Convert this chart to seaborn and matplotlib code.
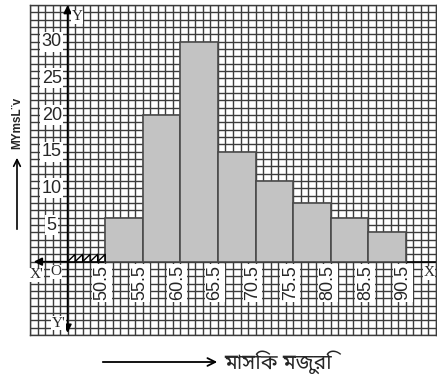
import numpy as np
import matplotlib
matplotlib.use("Agg")
import matplotlib.pyplot as plt
import seaborn as sns

# class boundaries (monthly wage) and frequencies
edges = [50.5, 55.5, 60.5, 65.5, 70.5, 75.5, 80.5, 85.5, 90.5]
freq = [6, 20, 30, 15, 11, 8, 6, 4]
y_ticks = [5, 10, 15, 20, 25, 30]
x_label = "মাসিক মজুরি"
y_label = "MYmsL¨v"

sns.set_style("white")
plt.rcParams["font.family"] = ["DejaVu Sans"]

origin_x = 45.5
x_lo, x_hi = 40.5, 94.5
y_lo, y_hi = -10, 35

fig = plt.figure(figsize=(4.37, 3.78), dpi=100)
ax = fig.add_axes([30 / 437, 43 / 378, 406 / 437, 330 / 378])

mids = [(a + b) / 2 for a, b in zip(edges[:-1], edges[1:])]
sns.histplot(x=mids, weights=freq, bins=edges, ax=ax, color="#c3c3c3",
             edgecolor="#4a4a4a", linewidth=1.2, alpha=1, zorder=3)

ax.set_xlim(x_lo, x_hi)
ax.set_ylim(y_lo, y_hi)

# graph-paper grid: one line per unit
ax.set_xticks(np.arange(x_lo, x_hi + 0.01, 1))
ax.set_yticks(np.arange(y_lo, y_hi + 0.01, 1))
ax.tick_params(length=0, labelbottom=False, labelleft=False)
ax.grid(True, color="#3c3c3c", linewidth=1.0)
ax.set_axisbelow(True)
ax.set_xlabel("")
ax.set_ylabel("")
for s in ax.spines.values():
    s.set_color("#3c3c3c")
    s.set_linewidth(1.0)

box = dict(facecolor="white", edgecolor="none", pad=1.0)
num_font = dict(fontsize=13, family=["Liberation Sans", "DejaVu Sans"])

for t in y_ticks:
    ax.text(43.4, t, str(t), ha="center", va="center", bbox=box, zorder=5, **num_font)

for e in edges:
    ax.text(e - 0.4, -0.5, f"{e}", ha="center", va="top", rotation=90,
            bbox=box, zorder=5, **num_font)

# axes through the origin
arrow = dict(arrowstyle="-|>", color="black", lw=1.2, mutation_scale=12,
             shrinkA=0, shrinkB=0)
ax.annotate("", xy=(origin_x, y_hi), xytext=(origin_x, 0), arrowprops=arrow, zorder=6)
ax.annotate("", xy=(origin_x, y_lo + 0.3), xytext=(origin_x, 0), arrowprops=arrow, zorder=6)
ax.annotate("", xy=(41.0, 0), xytext=(origin_x, 0), arrowprops=arrow, zorder=6)
ax.plot([origin_x, x_hi], [0, 0], color="black", lw=1.2, zorder=2)

# axis break zigzag between O and the first class
zx, zy = [origin_x], [0]
for k in range(1, 6):
    zx += [origin_x + k, origin_x + k]
    zy += [1, 0]
ax.plot(zx, zy, color="black", lw=1.0, zorder=6)

serif = dict(family="Liberation Serif", fontsize=11, zorder=6)
wbox = dict(facecolor="white", edgecolor="none", pad=0.3)
ax.text(46.8, 33.4, "Y", ha="center", va="center", bbox=wbox, **serif)
ax.text(44.3, -8.4, "Y'", ha="center", va="center", bbox=wbox, **serif)
ax.text(41.4, -1.8, "X'", ha="center", va="center", bbox=wbox, **serif)
ax.text(44.0, -1.4, "O", ha="center", va="center", bbox=wbox, **serif)
ax.text(93.6, -1.5, "X", ha="center", va="center", bbox=wbox, **serif)

# axis titles with leading arrows
fig.add_artist(matplotlib.patches.FancyArrowPatch(
    (100 / 437, 1 - 362 / 378), (220 / 437, 1 - 362 / 378), transform=fig.transFigure,
    arrowstyle="->", mutation_scale=14, lw=1.3, color="black"))
fig.text(224 / 437, 1 - 362 / 378, x_label, ha="left", va="center", fontsize=15,
         family=["Noto Sans Bengali", "Noto Serif Bengali", "Lohit Bengali", "FreeSerif", "DejaVu Sans"])

fig.add_artist(matplotlib.patches.FancyArrowPatch(
    (17 / 437, 1 - 232 / 378), (17 / 437, 1 - 155 / 378), transform=fig.transFigure,
    arrowstyle="->", mutation_scale=12, lw=1.2, color="black"))
fig.text(17 / 437, 1 - 123 / 378, y_label, ha="center", va="center", rotation=90,
         fontsize=8.5, fontweight="bold", family=["Liberation Sans", "DejaVu Sans"])

fig.savefig("out.png", dpi=100)
